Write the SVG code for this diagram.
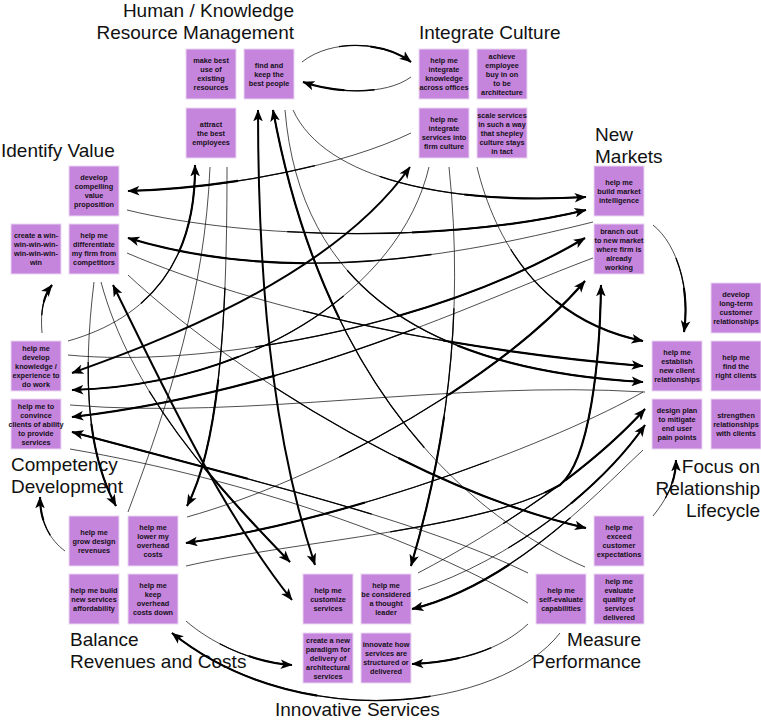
<svg xmlns="http://www.w3.org/2000/svg" xmlns:xlink="http://www.w3.org/1999/xlink" width="761" height="721" viewBox="0 0 761 721">
<style>
.node{fill:#c685dd;stroke:#ead6f2;stroke-width:1}
.nt{font-family:"Liberation Sans",Arial,sans-serif;font-weight:bold;font-size:7.3px;fill:#141018;text-anchor:middle}
.title{font-family:"Liberation Sans",Arial,sans-serif;font-size:19px;fill:#111}
.t1{fill:none;stroke:#000;stroke-width:0.7}
.t2{fill:none;stroke:#000;stroke-width:1.3;stroke-dasharray:0 35 65}
.t3{fill:none;stroke:#000;stroke-width:2.1;stroke-dasharray:0 62 38;marker-end:url(#ah)}
.dbl{fill:none;stroke:#000;stroke-width:2;marker-start:url(#ah);marker-end:url(#ah)}
.plain{fill:none;stroke:#000;stroke-width:0.7}
</style>
<defs>
<marker id="ah" viewBox="0 0 10 8" refX="9.5" refY="4" markerWidth="12" markerHeight="10" markerUnits="userSpaceOnUse" orient="auto-start-reverse"><path d="M0,0 L10,4 L0,8 L2.5,4 z" fill="#000"/></marker>
<path id="c1" pathLength="100" d="M302,62 C332,38 385,42 411,62"/>
<path id="c2" pathLength="100" d="M411,77 C385,96 335,93 303,82"/>
<path id="c3" pathLength="100" d="M68,341 C150,318 196,260 195,165"/>
<path id="c4" pathLength="100" d="M411,133 C345,165 230,188 128,191"/>
<path id="c5" pathLength="100" d="M593,222 C480,250 300,290 128,238"/>
<path id="c6" pathLength="100" d="M94,282 C82,380 88,455 116,506"/>
<path id="c7" pathLength="100" d="M101,282 C130,390 210,480 290,562"/>
<path id="c8" pathLength="100" d="M42,333 C40,310 44,295 52,285"/>
<path id="c9" pathLength="100" d="M227,167 C227,300 222,440 187,506"/>
<path id="c10" pathLength="100" d="M293,110 C325,180 450,205 586,197"/>
<path id="c11" pathLength="100" d="M127,210 C250,240 450,243 586,210"/>
<path id="c12" pathLength="100" d="M68,355 C200,368 430,330 585,238"/>
<path id="c13" pathLength="100" d="M187,517 C320,480 500,380 585,281"/>
<path id="c14" pathLength="100" d="M186,566 C300,540 480,530 560,485 C590,460 600,360 601,285"/>
<path id="c15" pathLength="100" d="M653,225 C678,245 690,290 684,332"/>
<path id="c16" pathLength="100" d="M477,167 C495,240 540,320 643,341"/>
<path id="c17" pathLength="100" d="M127,253 C260,310 450,350 643,366"/>
<path id="c18" pathLength="100" d="M285,110 C300,290 430,370 643,382"/>
<path id="c19" pathLength="100" d="M418,573 C500,530 590,470 645,409"/>
<path id="c20" pathLength="100" d="M418,590 C510,560 600,490 645,425"/>
<path id="c21" pathLength="100" d="M653,516 C666,500 676,482 676,460"/>
<path id="c22" pathLength="100" d="M429,167 C400,290 250,385 72,390"/>
<path id="c23" pathLength="100" d="M593,258 C480,300 300,390 72,417"/>
<path id="c24" pathLength="100" d="M528,573 C420,520 250,480 72,432"/>
<path id="c25" pathLength="100" d="M65,551 C50,540 40,522 40,497"/>
<path id="c26" pathLength="100" d="M643,392 C560,440 350,520 186,543"/>
<path id="c27" pathLength="100" d="M186,621 C210,642 250,662 292,665"/>
<path id="c28" pathLength="100" d="M560,633 C500,710 300,735 172,633"/>
<path id="c29" pathLength="100" d="M643,450 C590,500 510,585 412,609"/>
<path id="c30" pathLength="100" d="M528,624 C500,650 460,662 412,664"/>
<path id="c31" pathLength="100" d="M449,167 C465,320 445,450 411,566"/>
<path id="c32" pathLength="100" d="M128,275 C230,370 420,490 586,528"/>
<path id="c33" pathLength="100" d="M585,567 C500,530 330,420 273,110"/>
</defs>

<g id="titles">
<text class="title" x="294" y="17" text-anchor="end">Human / Knowledge</text>
<text class="title" x="294" y="39" text-anchor="end">Resource Management</text>
<text class="title" x="419" y="39">Integrate Culture</text>
<text class="title" x="1" y="157">Identify Value</text>
<text class="title" x="595" y="141">New</text>
<text class="title" x="595" y="163">Markets</text>
<text class="title" x="760" y="473" text-anchor="end">Focus on</text>
<text class="title" x="760" y="495" text-anchor="end">Relationship</text>
<text class="title" x="760" y="517" text-anchor="end">Lifecycle</text>
<text class="title" x="11" y="471">Competency</text>
<text class="title" x="11" y="493">Development</text>
<text class="title" x="70" y="646">Balance</text>
<text class="title" x="70" y="668">Revenues and Costs</text>
<text class="title" x="275" y="716">Innovative Services</text>
<text class="title" x="641" y="646" text-anchor="end">Measure</text>
<text class="title" x="641" y="668" text-anchor="end">Performance</text>
</g>

<g id="connectors">
<use xlink:href="#c1" class="t1"/><use xlink:href="#c1" class="t2"/><use xlink:href="#c1" class="t3"/>
<use xlink:href="#c2" class="t1"/><use xlink:href="#c2" class="t2"/><use xlink:href="#c2" class="t3"/>
<use xlink:href="#c3" class="t1"/><use xlink:href="#c3" class="t2"/><use xlink:href="#c3" class="t3"/>
<use xlink:href="#c4" class="t1"/><use xlink:href="#c4" class="t2"/><use xlink:href="#c4" class="t3"/>
<use xlink:href="#c5" class="t1"/><use xlink:href="#c5" class="t2"/><use xlink:href="#c5" class="t3"/>
<use xlink:href="#c6" class="t1"/><use xlink:href="#c6" class="t2"/><use xlink:href="#c6" class="t3"/>
<use xlink:href="#c7" class="t1"/><use xlink:href="#c7" class="t2"/><use xlink:href="#c7" class="t3"/>
<use xlink:href="#c8" class="t1"/><use xlink:href="#c8" class="t2"/><use xlink:href="#c8" class="t3"/>
<use xlink:href="#c9" class="t1"/><use xlink:href="#c9" class="t2"/><use xlink:href="#c9" class="t3"/>
<use xlink:href="#c10" class="t1"/><use xlink:href="#c10" class="t2"/><use xlink:href="#c10" class="t3"/>
<use xlink:href="#c11" class="t1"/><use xlink:href="#c11" class="t2"/><use xlink:href="#c11" class="t3"/>
<use xlink:href="#c12" class="t1"/><use xlink:href="#c12" class="t2"/><use xlink:href="#c12" class="t3"/>
<use xlink:href="#c13" class="t1"/><use xlink:href="#c13" class="t2"/><use xlink:href="#c13" class="t3"/>
<use xlink:href="#c14" class="t1"/><use xlink:href="#c14" class="t2"/><use xlink:href="#c14" class="t3"/>
<use xlink:href="#c15" class="t1"/><use xlink:href="#c15" class="t2"/><use xlink:href="#c15" class="t3"/>
<use xlink:href="#c16" class="t1"/><use xlink:href="#c16" class="t2"/><use xlink:href="#c16" class="t3"/>
<use xlink:href="#c17" class="t1"/><use xlink:href="#c17" class="t2"/><use xlink:href="#c17" class="t3"/>
<use xlink:href="#c18" class="t1"/><use xlink:href="#c18" class="t2"/><use xlink:href="#c18" class="t3"/>
<use xlink:href="#c19" class="t1"/><use xlink:href="#c19" class="t2"/><use xlink:href="#c19" class="t3"/>
<use xlink:href="#c20" class="t1"/><use xlink:href="#c20" class="t2"/><use xlink:href="#c20" class="t3"/>
<use xlink:href="#c21" class="t1"/><use xlink:href="#c21" class="t2"/><use xlink:href="#c21" class="t3"/>
<use xlink:href="#c22" class="t1"/><use xlink:href="#c22" class="t2"/><use xlink:href="#c22" class="t3"/>
<use xlink:href="#c23" class="t1"/><use xlink:href="#c23" class="t2"/><use xlink:href="#c23" class="t3"/>
<use xlink:href="#c24" class="t1"/><use xlink:href="#c24" class="t2"/><use xlink:href="#c24" class="t3"/>
<use xlink:href="#c25" class="t1"/><use xlink:href="#c25" class="t2"/><use xlink:href="#c25" class="t3"/>
<use xlink:href="#c26" class="t1"/><use xlink:href="#c26" class="t2"/><use xlink:href="#c26" class="t3"/>
<use xlink:href="#c27" class="t1"/><use xlink:href="#c27" class="t2"/><use xlink:href="#c27" class="t3"/>
<use xlink:href="#c28" class="t1"/><use xlink:href="#c28" class="t2"/><use xlink:href="#c28" class="t3"/>
<use xlink:href="#c29" class="t1"/><use xlink:href="#c29" class="t2"/><use xlink:href="#c29" class="t3"/>
<use xlink:href="#c30" class="t1"/><use xlink:href="#c30" class="t2"/><use xlink:href="#c30" class="t3"/>
<use xlink:href="#c31" class="t1"/><use xlink:href="#c31" class="t2"/><use xlink:href="#c31" class="t3"/>
<use xlink:href="#c32" class="t1"/><use xlink:href="#c32" class="t2"/><use xlink:href="#c32" class="t3"/>
<use xlink:href="#c33" class="t1"/><use xlink:href="#c33" class="t2"/><use xlink:href="#c33" class="t3"/>
<path class="dbl" d="M258,110 C258,320 280,460 315,565"/>
<path class="dbl" d="M113,285 C160,380 220,510 292,600"/>
<path class="dbl" d="M72,373 C150,345 330,280 410,167"/>
<path class="plain" d="M70,449 C250,480 420,540 528,603"/>
<path class="plain" d="M70,405 C250,420 450,380 645,392"/>
<path class="plain" d="M210,167 C205,290 170,400 128,512"/>
</g>

<g id="n1"><rect class="node" x="186" y="49" width="50" height="50"/><text class="nt"><tspan x="211" y="63">make best</tspan><tspan x="211" y="72">use of</tspan><tspan x="211" y="81">existing</tspan><tspan x="211" y="90">resources</tspan></text></g>
<g id="n2"><rect class="node" x="244" y="49" width="50" height="50"/><text class="nt"><tspan x="269" y="67.5">find and</tspan><tspan x="269" y="76.5">keep the</tspan><tspan x="269" y="85.5">best people</tspan></text></g>
<g id="n3"><rect class="node" x="186" y="108" width="50" height="50"/><text class="nt"><tspan x="211" y="126.5">attract</tspan><tspan x="211" y="135.5">the best</tspan><tspan x="211" y="144.5">employees</tspan></text></g>
<g id="n4"><rect class="node" x="419" y="49" width="50" height="50"/><text class="nt"><tspan x="444" y="63">help me</tspan><tspan x="444" y="72">integrate</tspan><tspan x="444" y="81">knowledge</tspan><tspan x="444" y="90">across offices</tspan></text></g>
<g id="n5"><rect class="node" x="477" y="49" width="50" height="50"/><text class="nt"><tspan x="502" y="58.5">achieve</tspan><tspan x="502" y="67.5">employee</tspan><tspan x="502" y="76.5">buy in on</tspan><tspan x="502" y="85.5">to be</tspan><tspan x="502" y="94.5">architecture</tspan></text></g>
<g id="n6"><rect class="node" x="419" y="108" width="50" height="50"/><text class="nt"><tspan x="444" y="122">help me</tspan><tspan x="444" y="131">integrate</tspan><tspan x="444" y="140">services into</tspan><tspan x="444" y="149">firm culture</tspan></text></g>
<g id="n7"><rect class="node" x="477" y="108" width="50" height="50"/><text class="nt"><tspan x="502" y="117.5">scale services</tspan><tspan x="502" y="126.5">in such a way</tspan><tspan x="502" y="135.5">that shepley</tspan><tspan x="502" y="144.5">culture stays</tspan><tspan x="502" y="153.5">in tact</tspan></text></g>
<g id="n8"><rect class="node" x="594" y="166" width="50" height="50"/><text class="nt"><tspan x="619" y="184.5">help me</tspan><tspan x="619" y="193.5">build market</tspan><tspan x="619" y="202.5">intelligence</tspan></text></g>
<g id="n9"><rect class="node" x="594" y="224" width="50" height="50"/><text class="nt"><tspan x="619" y="233.5">branch out</tspan><tspan x="619" y="242.5">to new market</tspan><tspan x="619" y="251.5">where firm is</tspan><tspan x="619" y="260.5">already</tspan><tspan x="619" y="269.5">working</tspan></text></g>
<g id="n10"><rect class="node" x="711" y="283" width="50" height="50"/><text class="nt"><tspan x="736" y="297">develop</tspan><tspan x="736" y="306">long-term</tspan><tspan x="736" y="315">customer</tspan><tspan x="736" y="324">relationships</tspan></text></g>
<g id="n11"><rect class="node" x="652" y="341" width="50" height="50"/><text class="nt"><tspan x="677" y="355">help me</tspan><tspan x="677" y="364">establish</tspan><tspan x="677" y="373">new client</tspan><tspan x="677" y="382">relationships</tspan></text></g>
<g id="n12"><rect class="node" x="711" y="341" width="50" height="50"/><text class="nt"><tspan x="736" y="359.5">help me</tspan><tspan x="736" y="368.5">find the</tspan><tspan x="736" y="377.5">right clients</tspan></text></g>
<g id="n13"><rect class="node" x="652" y="399" width="50" height="50"/><text class="nt"><tspan x="677" y="413">design plan</tspan><tspan x="677" y="422">to mitigate</tspan><tspan x="677" y="431">end user</tspan><tspan x="677" y="440">pain points</tspan></text></g>
<g id="n14"><rect class="node" x="711" y="399" width="50" height="50"/><text class="nt"><tspan x="736" y="417.5">strengthen</tspan><tspan x="736" y="426.5">relationships</tspan><tspan x="736" y="435.5">with clients</tspan></text></g>
<g id="n15"><rect class="node" x="69" y="166" width="50" height="50"/><text class="nt"><tspan x="94" y="180">develop</tspan><tspan x="94" y="189">compelling</tspan><tspan x="94" y="198">value</tspan><tspan x="94" y="207">proposition</tspan></text></g>
<g id="n16"><rect class="node" x="11" y="224" width="50" height="50"/><text class="nt"><tspan x="36" y="238">create a win-</tspan><tspan x="36" y="247">win-win-win-</tspan><tspan x="36" y="256">win-win-win-</tspan><tspan x="36" y="265">win</tspan></text></g>
<g id="n17"><rect class="node" x="69" y="224" width="50" height="50"/><text class="nt"><tspan x="94" y="238">help me</tspan><tspan x="94" y="247">differentiate</tspan><tspan x="94" y="256">my firm from</tspan><tspan x="94" y="265">competitors</tspan></text></g>
<g id="n18"><rect class="node" x="11" y="341" width="50" height="50"/><text class="nt"><tspan x="36" y="350.5">help me</tspan><tspan x="36" y="359.5">develop</tspan><tspan x="36" y="368.5">knowledge /</tspan><tspan x="36" y="377.5">experience to</tspan><tspan x="36" y="386.5">do work</tspan></text></g>
<g id="n19"><rect class="node" x="11" y="399" width="50" height="50"/><text class="nt"><tspan x="36" y="408.5">help me to</tspan><tspan x="36" y="417.5">convince</tspan><tspan x="36" y="426.5">clients of ability</tspan><tspan x="36" y="435.5">to provide</tspan><tspan x="36" y="444.5">services</tspan></text></g>
<g id="n20"><rect class="node" x="69" y="516" width="50" height="50"/><text class="nt"><tspan x="94" y="534.5">help me</tspan><tspan x="94" y="543.5">grow design</tspan><tspan x="94" y="552.5">revenues</tspan></text></g>
<g id="n21"><rect class="node" x="128" y="516" width="50" height="50"/><text class="nt"><tspan x="153" y="530">help me</tspan><tspan x="153" y="539">lower my</tspan><tspan x="153" y="548">overhead</tspan><tspan x="153" y="557">costs</tspan></text></g>
<g id="n22"><rect class="node" x="69" y="574" width="50" height="50"/><text class="nt"><tspan x="94" y="592.5">help me build</tspan><tspan x="94" y="601.5">new services</tspan><tspan x="94" y="610.5">affordability</tspan></text></g>
<g id="n23"><rect class="node" x="128" y="574" width="50" height="50"/><text class="nt"><tspan x="153" y="588">help me</tspan><tspan x="153" y="597">keep</tspan><tspan x="153" y="606">overhead</tspan><tspan x="153" y="615">costs down</tspan></text></g>
<g id="n24"><rect class="node" x="303" y="574" width="50" height="50"/><text class="nt"><tspan x="328" y="592.5">help me</tspan><tspan x="328" y="601.5">customize</tspan><tspan x="328" y="610.5">services</tspan></text></g>
<g id="n25"><rect class="node" x="361" y="574" width="50" height="50"/><text class="nt"><tspan x="386" y="588">help me</tspan><tspan x="386" y="597">be considered</tspan><tspan x="386" y="606">a thought</tspan><tspan x="386" y="615">leader</tspan></text></g>
<g id="n26"><rect class="node" x="303" y="633" width="50" height="50"/><text class="nt"><tspan x="328" y="642.5">create a new</tspan><tspan x="328" y="651.5">paradigm for</tspan><tspan x="328" y="660.5">delivery of</tspan><tspan x="328" y="669.5">architectural</tspan><tspan x="328" y="678.5">services</tspan></text></g>
<g id="n27"><rect class="node" x="361" y="633" width="50" height="50"/><text class="nt"><tspan x="386" y="647">innovate how</tspan><tspan x="386" y="656">services are</tspan><tspan x="386" y="665">structured or</tspan><tspan x="386" y="674">delivered</tspan></text></g>
<g id="n28"><rect class="node" x="594" y="516" width="50" height="50"/><text class="nt"><tspan x="619" y="530">help me</tspan><tspan x="619" y="539">exceed</tspan><tspan x="619" y="548">customer</tspan><tspan x="619" y="557">expectations</tspan></text></g>
<g id="n29"><rect class="node" x="536" y="574" width="50" height="50"/><text class="nt"><tspan x="561" y="592.5">help me</tspan><tspan x="561" y="601.5">self-evaluate</tspan><tspan x="561" y="610.5">capabilities</tspan></text></g>
<g id="n30"><rect class="node" x="594" y="574" width="50" height="50"/><text class="nt"><tspan x="619" y="583.5">help me</tspan><tspan x="619" y="592.5">evaluate</tspan><tspan x="619" y="601.5">quality of</tspan><tspan x="619" y="610.5">services</tspan><tspan x="619" y="619.5">delivered</tspan></text></g>
</svg>
